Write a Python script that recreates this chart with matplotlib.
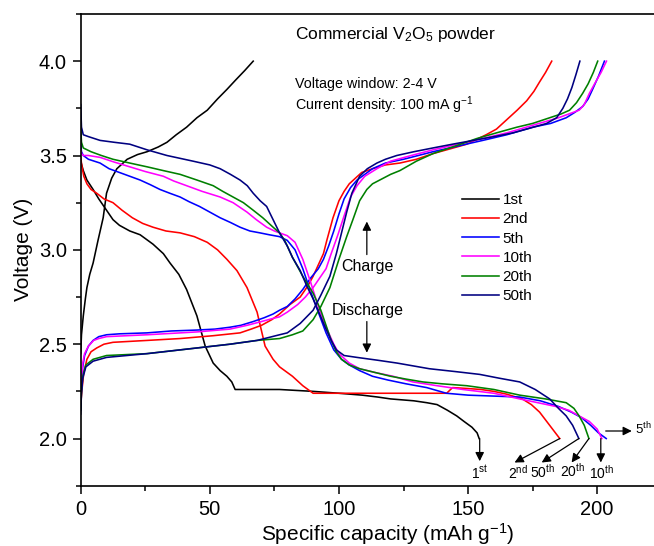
import numpy as np
import matplotlib
matplotlib.use("Agg")
import matplotlib.pyplot as plt

plt.rcParams['font.family'] = ['Liberation Sans', 'DejaVu Sans']
plt.rcParams['mathtext.fontset'] = 'custom'
plt.rcParams['mathtext.rm'] = 'Liberation Sans'
plt.rcParams['mathtext.it'] = 'Liberation Sans:italic'
plt.rcParams['mathtext.bf'] = 'Liberation Sans:bold'

# ---- data: capacity (mAh/g), voltage (V) ----
cycles = ['1st', '2nd', '5th', '10th', '20th', '50th']
colors = ['black', '#ff0000', '#0000ff', '#ff00ff', '#008000', '#000080']

# 1st cycle
dis1_x = [0, 1, 2.4, 4.8, 7, 10, 12.5, 15, 19, 23, 28, 32, 34.6, 38, 41, 45, 48.2, 51.3, 54, 56.6,
          58.5, 59.8, 65, 77, 90, 100, 109, 115, 120, 129, 134, 138, 142, 145.6, 148.5, 151.5, 153.5, 154.3]
dis1_v = [3.47, 3.42, 3.37, 3.32, 3.27, 3.21, 3.16, 3.13, 3.10, 3.08, 3.03, 2.98, 2.93, 2.87, 2.79, 2.65, 2.49, 2.40, 2.36, 2.33,
          2.30, 2.26, 2.26, 2.26, 2.25, 2.24, 2.23, 2.22, 2.21, 2.20, 2.19, 2.18, 2.15, 2.12, 2.09, 2.06, 2.03, 2.0]
chg1_x = [0, 0.3, 1, 1.8, 2.4, 3.5, 4.8, 6.7, 8.7, 10, 12, 14, 18, 22, 25.7, 30, 33.4, 37, 41, 45, 49, 53,
          56.6, 60, 63.5, 66.8]
chg1_v = [2.45, 2.55, 2.65, 2.74, 2.80, 2.87, 2.93, 3.05, 3.17, 3.30, 3.38, 3.43, 3.48, 3.505, 3.52, 3.545, 3.57, 3.61, 3.65, 3.70, 3.74, 3.80,
          3.85, 3.90, 3.95, 4.0]

# 2nd cycle
dis2_x = [0, 0.5, 1.2, 2.4, 4, 6.2, 9, 12.5, 16, 20, 24, 28, 33, 38.5, 44, 49, 53, 56.6, 60.5, 64.4, 68.3, 71.4,
          74.5, 77, 80, 82, 86, 90, 100, 110, 120, 130, 141.7, 144, 150, 155, 160, 165, 171, 174.5, 177.7, 181.6, 185.5]
dis2_v = [3.49, 3.44, 3.39, 3.35, 3.32, 3.30, 3.27, 3.25, 3.21, 3.17, 3.14, 3.12, 3.10, 3.09, 3.07, 3.04, 3.00, 2.95, 2.89, 2.80, 2.67, 2.49,
          2.42, 2.38, 2.35, 2.33, 2.28, 2.24, 2.24, 2.24, 2.24, 2.24, 2.24, 2.27, 2.265, 2.26, 2.25, 2.235, 2.21, 2.18, 2.14, 2.07, 2.0]
chg2_x = [0, 0.5, 1.2, 2.4, 4, 6.2, 9, 12.5, 25.7, 38.5, 51.3, 61.7, 66, 70, 74, 77, 81, 85, 88, 90, 92, 94,
          95.3, 97.7, 100, 102, 104, 108.8, 113, 118, 123.6, 130, 136.4, 143, 149.5, 157, 161, 165, 169, 172.7,
          175.5, 177.7, 180, 182.4]
chg2_v = [2.18, 2.26, 2.35, 2.42, 2.46, 2.48, 2.50, 2.51, 2.52, 2.53, 2.545, 2.56, 2.58, 2.60, 2.63, 2.66, 2.71, 2.75, 2.81, 2.86, 2.92, 2.98,
          3.05, 3.17, 3.26, 3.31, 3.35, 3.41, 3.43, 3.45, 3.46, 3.48, 3.51, 3.535, 3.56, 3.61, 3.64, 3.69, 3.74, 3.79,
          3.84, 3.89, 3.94, 4.0]

# 5th cycle
dis5_x = [0, 0.3, 1, 3, 7.5, 11, 15, 19, 23, 27, 30.7, 34.5, 38.5, 42, 46, 50, 54, 58, 61.7, 65.5, 69.4, 73, 77,
          80, 83, 86, 89, 92, 95, 98, 101, 104, 108, 113, 119, 126, 134, 141.6, 150, 160, 170, 178, 185, 190, 194,
          197.5, 200.5, 203.5]
dis5_v = [3.56, 3.52, 3.50, 3.48, 3.46, 3.43, 3.41, 3.39, 3.37, 3.345, 3.32, 3.30, 3.28, 3.255, 3.23, 3.20, 3.17, 3.145, 3.12, 3.10, 3.09, 3.08, 3.07,
          3.05, 3.00, 2.90, 2.78, 2.67, 2.56, 2.47, 2.42, 2.39, 2.36, 2.33, 2.31, 2.29, 2.27, 2.24, 2.23, 2.225, 2.22, 2.20, 2.17, 2.14, 2.11,
          2.07, 2.03, 2.0]
chg5_x = [0, 0.3, 0.8, 1.5, 3, 4.8, 7, 10, 15, 25.7, 35, 45, 52, 57.8, 62, 66.8, 71, 74.5, 77, 80, 83, 86, 89,
          92, 94, 96, 98, 100, 102, 104.5, 107, 110, 113, 118, 125, 136.4, 146, 155.7, 165, 175, 182, 188, 191.5,
          194.4, 196.5, 198.2, 200.5, 202.8]
chg5_v = [2.15, 2.28, 2.38, 2.44, 2.49, 2.52, 2.54, 2.55, 2.555, 2.56, 2.57, 2.575, 2.58, 2.59, 2.60, 2.62, 2.64, 2.66, 2.68, 2.70, 2.74, 2.79, 2.85,
          2.90, 2.95, 3.02, 3.10, 3.19, 3.27, 3.33, 3.37, 3.40, 3.43, 3.46, 3.48, 3.52, 3.55, 3.58, 3.61, 3.65, 3.67, 3.70, 3.73,
          3.76, 3.80, 3.85, 3.92, 4.0]

# 10th cycle
dis10_x = [0, 0.3, 1, 3, 7.5, 13, 19, 25, 32, 36, 41, 47, 54, 59, 64.4, 68, 72, 75, 77, 80, 83, 86, 89, 92,
           95, 98, 100, 104, 108, 114, 121, 128.6, 138, 148, 160, 170, 177, 184, 189, 193, 197, 200, 201.8]
dis10_v = [3.53, 3.51, 3.50, 3.50, 3.49, 3.465, 3.44, 3.415, 3.39, 3.365, 3.34, 3.31, 3.28, 3.25, 3.20, 3.16, 3.12, 3.10, 3.09, 3.075, 3.04, 2.95, 2.83, 2.70,
           2.59, 2.50, 2.45, 2.40, 2.37, 2.35, 2.33, 2.30, 2.28, 2.26, 2.24, 2.21, 2.19, 2.17, 2.15, 2.12, 2.09, 2.05, 2.0]
chg10_x = [0, 0.3, 0.8, 1.5, 3, 5, 7, 10, 25.7, 45, 57.8, 64.4, 70, 74, 77, 80, 84, 87, 90, 93, 95, 97,
           99.6, 102, 104.5, 107, 110, 114.7, 120, 128, 136.4, 146, 155.7, 165, 175, 185, 193, 195, 197, 199,
           201.5, 203.6]
chg10_v = [2.22, 2.32, 2.40, 2.45, 2.49, 2.52, 2.53, 2.54, 2.55, 2.565, 2.58, 2.60, 2.62, 2.635, 2.645, 2.67, 2.71, 2.75, 2.80, 2.86, 2.90, 2.98,
           3.08, 3.18, 3.28, 3.34, 3.39, 3.43, 3.47, 3.50, 3.53, 3.56, 3.59, 3.62, 3.66, 3.70, 3.74, 3.77, 3.83, 3.88,
           3.94, 4.0]

# 20th cycle
dis20_x = [0, 0.3, 1, 4, 8, 12.5, 19, 25.7, 32, 38.5, 45, 51.3, 55, 59, 63, 66.8, 70.5, 74.5, 77, 79, 82, 86,
           90, 93, 95, 97, 99, 101, 104, 108, 114, 120, 126, 132.5, 140, 149.5, 160, 170, 180, 188, 191, 193,
           195, 196.8]
dis20_v = [3.65, 3.57, 3.54, 3.52, 3.50, 3.48, 3.46, 3.44, 3.42, 3.40, 3.37, 3.34, 3.31, 3.28, 3.25, 3.21, 3.17, 3.12, 3.09, 3.05, 2.96, 2.86,
           2.77, 2.68, 2.60, 2.52, 2.46, 2.42, 2.39, 2.37, 2.35, 2.33, 2.315, 2.30, 2.29, 2.28, 2.26, 2.23, 2.21, 2.19, 2.16, 2.12,
           2.07, 2.0]
chg20_x = [0, 0.3, 0.8, 2, 4.8, 10, 25.7, 45, 57.8, 68.3, 77, 82, 86, 90, 93, 96.5, 100, 103, 105.4, 108, 110.8,
           113, 115.8, 120, 123.6, 130, 136.4, 145, 153.4, 161, 168.9, 175, 181.6, 186, 189.3, 192, 194.4, 196.5,
           198.5, 200.2]
chg20_v = [2.15, 2.25, 2.33, 2.39, 2.42, 2.44, 2.45, 2.48, 2.50, 2.52, 2.53, 2.55, 2.57, 2.63, 2.70, 2.80, 2.95, 3.07, 3.16, 3.26, 3.32,
           3.35, 3.37, 3.40, 3.42, 3.47, 3.51, 3.55, 3.59, 3.62, 3.65, 3.67, 3.70, 3.72, 3.74, 3.78, 3.83, 3.88,
           3.94, 4.0]

# 50th cycle
dis50_x = [0, 0.3, 1, 3, 7.5, 13, 19, 25.7, 33.4, 43.5, 50, 54, 58, 61.7, 64.5, 66.8, 69.5, 72, 74.5, 77, 80,
           82, 85, 87.5, 90, 92.5, 95, 97, 99, 102, 107, 115, 122.5, 135, 145, 154.5, 162, 170, 176, 181.6, 185,
           188, 190.5, 192.9]
dis50_v = [3.77, 3.65, 3.61, 3.60, 3.58, 3.57, 3.56, 3.53, 3.50, 3.47, 3.45, 3.43, 3.40, 3.37, 3.34, 3.30, 3.26, 3.23, 3.16, 3.09, 3.02,
           2.96, 2.89, 2.81, 2.74, 2.66, 2.58, 2.52, 2.47, 2.44, 2.43, 2.415, 2.40, 2.37, 2.355, 2.34, 2.32, 2.30, 2.26, 2.21, 2.16,
           2.12, 2.07, 2.0]
chg50_x = [0, 0.3, 0.8, 2, 4.8, 10, 25.7, 45, 57.8, 68.3, 77, 80, 85, 90, 93, 96.5, 99, 101, 103, 105, 108,
           111, 114.7, 118, 122.4, 129, 136.4, 144, 152, 160, 167.4, 174, 180.4, 184.3, 186.7, 188.5, 190.2, 191.8,
           193.3]
chg50_v = [2.13, 2.24, 2.32, 2.38, 2.41, 2.43, 2.45, 2.48, 2.50, 2.52, 2.55, 2.56, 2.61, 2.68, 2.76, 2.86, 2.98, 3.09, 3.20, 3.30, 3.39,
           3.43, 3.46, 3.48, 3.50, 3.52, 3.54, 3.56, 3.58, 3.60, 3.62, 3.645, 3.67, 3.70, 3.75, 3.80, 3.86, 3.93,
           4.0]

discharge = [(dis1_x, dis1_v), (dis2_x, dis2_v), (dis5_x, dis5_v), (dis10_x, dis10_v), (dis20_x, dis20_v), (dis50_x, dis50_v)]
charge = [(chg1_x, chg1_v), (chg2_x, chg2_v), (chg5_x, chg5_v), (chg10_x, chg10_v), (chg20_x, chg20_v), (chg50_x, chg50_v)]

# end-of-discharge labels: text, arrow start (x, V), arrow head (x, V), text pos (x, V)
end_labels = ['1$^{\\mathrm{st}}$', '2$^{\\mathrm{nd}}$', '50$^{\\mathrm{th}}$', '20$^{\\mathrm{th}}$', '10$^{\\mathrm{th}}$']
end_from = [(154.5, 2.0), (185.5, 2.0), (192.9, 2.0), (196.8, 2.0), (201.4, 2.0)]
end_to = [(154.5, 1.88), (168.0, 1.873), (178.5, 1.873), (190.1, 1.873), (201.4, 1.873)]
end_text = [(154.5, 1.82), (169.5, 1.82), (178.8, 1.823), (190.4, 1.831), (201.8, 1.818)]

fig = plt.figure(figsize=(6.54, 5.46), dpi=100)
ax = fig.add_axes([0.1234, 0.1104, 0.8766, 0.864])

for i in range(len(cycles)):
    ax.plot(discharge[i][0], discharge[i][1], color=colors[i], lw=1.15, label=cycles[i])
    ax.plot(charge[i][0], charge[i][1], color=colors[i], lw=1.15)

ax.set_xlim(0, 222)
ax.set_ylim(1.75, 4.25)
ax.set_xticks([0, 50, 100, 150, 200])
ax.set_xticks([25, 75, 125, 175], minor=True)
ax.set_yticks([2.0, 2.5, 3.0, 3.5, 4.0])
ax.set_yticks([1.75, 2.25, 2.75, 3.25, 3.75, 4.25], minor=True)
ax.yaxis.set_major_formatter(matplotlib.ticker.FormatStrFormatter('%.1f'))
ax.tick_params(which='major', direction='out', length=6, width=1.1, labelsize=14.5, pad=4)
ax.tick_params(which='minor', direction='out', length=3.5, width=1.1)
for s in ['left', 'bottom', 'top']:
    ax.spines[s].set_linewidth(1.2)
ax.spines['right'].set_visible(False)

ax.set_xlabel('Specific capacity (mAh g$^{-1}$)', fontsize=15)
ax.set_ylabel('Voltage (V)', fontsize=15)
ax.xaxis.set_label_coords(0.535, -0.076)
ax.yaxis.set_label_coords(-0.083, 0.5)

ax.legend(loc='upper left', bbox_to_anchor=(0.665, 0.62), frameon=False, fontsize=11,
          handlelength=2.4, handletextpad=0.25, labelspacing=0.34, borderpad=0, borderaxespad=0)

ax.text(82.9, 4.116, 'Commercial V$_2$O$_5$ powder', fontsize=12.5, va='baseline')
ax.text(82.9, 3.857, 'Voltage window: 2-4 V', fontsize=10.3, va='baseline')
ax.text(82.9, 3.74, 'Current density: 100 mA g$^{-1}$', fontsize=10.3, va='baseline')

arrow = dict(arrowstyle='-|>', color='black', lw=0.9, mutation_scale=13, shrinkA=0, shrinkB=0)
ax.annotate('', xy=(110.8, 3.15), xytext=(110.8, 2.975), arrowprops=arrow)
ax.text(111, 2.91, 'Charge', fontsize=11.5, ha='center', va='center')
ax.text(111, 2.677, 'Discharge', fontsize=11.5, ha='center', va='center')
ax.annotate('', xy=(110.8, 2.455), xytext=(110.8, 2.62), arrowprops=arrow)

for i in range(len(end_labels)):
    ax.annotate('', xy=end_to[i], xytext=end_from[i], arrowprops=arrow)
    ax.text(end_text[i][0], end_text[i][1], end_labels[i], fontsize=10, ha='center', va='center')
ax.annotate('', xy=(213.4, 2.04), xytext=(203.3, 2.04), arrowprops=arrow)
ax.text(214.8, 2.05, '5$^{\\mathrm{th}}$', fontsize=9.5, ha='left', va='center', clip_on=False)

fig.savefig('out.png', dpi=100)
